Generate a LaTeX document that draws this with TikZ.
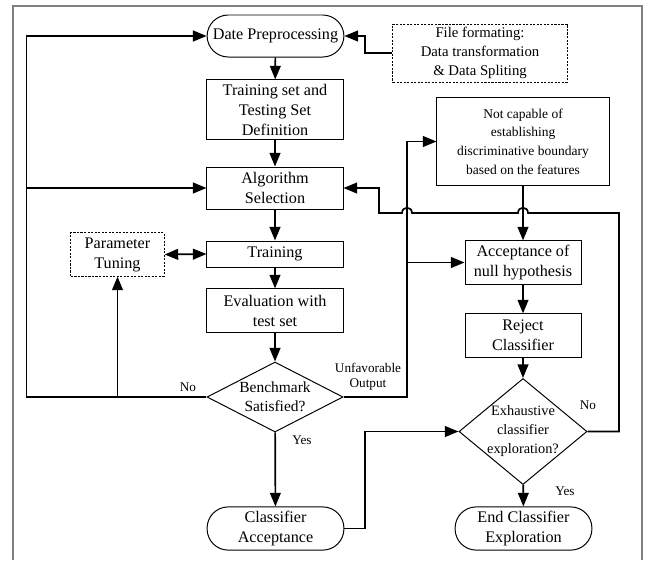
\documentclass[tikz,border=0pt]{standalone}
\usepackage{fontspec}
\setmainfont{Liberation Serif}
\usetikzlibrary{arrows.meta, positioning, shapes.geometric}

\begin{document}
\begin{tikzpicture}[x=0.025cm, y=-0.025cm,
    txt/.style={align=center, font=\fontsize{11.5}{14.2}\selectfont},
    box/.style={txt, draw, line width=0.7pt, inner sep=1pt},
    dashbox/.style={box, dash pattern=on 1.5pt off 1pt},
    term/.style={box, rounded corners=0.53cm},
    decision/.style={draw, line width=0.7pt, diamond, inner sep=0pt},
    flow/.style={-{Triangle[length=3.4mm,width=2.7mm]}, line width=1.2pt},
    lbl/.style={align=center, font=\fontsize{9.4}{11}\selectfont}]
    \useasboundingbox (0,0) rectangle (655,560);

    % Frame
    \draw[gray, line width=1pt] (13,560) -- (13,6) -- (642,6) -- (642,560);

    % Main column
    \node[term, minimum width=3.42cm, minimum height=1.05cm] (prep) at (275.5,36) {Date Preprocessing};
    \node[box, minimum width=3.4cm, minimum height=1.48cm] (split) at (275,109.5) {Training set and\\Testing Set\\Definition};
    \node[box, minimum width=3.4cm, minimum height=1.05cm] (algo) at (275,188) {Algorithm\\Selection};
    \node[box, minimum width=3.4cm, minimum height=0.65cm] (train) at (275,254) {Training};
    \node[box, minimum width=3.4cm, minimum height=1.08cm] (eval) at (275,310.5) {Evaluation with\\test set};
    \node[decision, minimum width=3.4cm, minimum height=1.75cm,
        label={[txt, font=\fontsize{11}{13.8}\selectfont]center:{Benchmark\\Satisfied?}}] (bench) at (275,397) {};
    \node[term, minimum width=3.42cm, minimum height=1.08cm] (accept) at (275.5,528.5) {Classifier\\Acceptance};

    % Side boxes
    \node[dashbox, minimum width=2.33cm, minimum height=1.08cm] (tune) at (117.5,254.5) {Parameter\\Tuning};
    \node[dashbox, minimum width=4.35cm, minimum height=1.45cm, font=\fontsize{10.5}{13.5}\selectfont] (file) at (480,53) {File formating:\\Data transformation\\\& Data Spliting};

    % Right column
    \node[box, minimum width=4.3cm, minimum height=2.18cm, font=\fontsize{9.6}{13.3}\selectfont] (notcap) at (523,141.5) {Not capable of\\establishing\\discriminative boundary\\based on the features};
    \node[box, minimum width=2.9cm, minimum height=1.08cm] (accnull) at (523,262.5) {Acceptance of\\null hypothesis};
    \node[box, minimum width=2.9cm, minimum height=1.08cm] (reject) at (523,335.5) {Reject\\Classifier};
    \node[decision, minimum width=3.2cm, minimum height=2.65cm,
        label={[txt, font=\fontsize{10.2}{13.5}\selectfont]center:{Exhaustive\\classifier\\exploration?}}] (exh) at (523,431.5) {};
    \node[term, minimum width=3.42cm, minimum height=1.08cm] (endc) at (523.5,528.5) {End Classifier\\Exploration};

    % Main flow
    \draw[flow] (prep) -- (split);
    \draw[flow] (split) -- (algo);
    \draw[flow] (algo) -- (train);
    \draw[flow] (train) -- (eval);
    \draw[flow] (eval) -- (bench);
    \draw[flow] (bench) -- (accept);
    \node[lbl] (yes1) at (302,440) {Yes};

    % Benchmark not satisfied
    \draw[flow] (bench.west) -- ++(-180,0) |- (prep.west);
    \coordinate (back) at (27,188);
    \draw[flow] (back) -- (algo.west);
    \coordinate (totune) at (117.5,397);
    \draw[flow] (totune) -- (tune.south);
    \draw[{Triangle[length=3.4mm,width=2.7mm]}-{Triangle[length=3.4mm,width=2.7mm]}, line width=1.2pt] (tune.east) -- (train.west);
    \node[lbl] (no1) at (188,387) {No};

    % Unfavorable output
    \draw[flow] (bench.east) -- (407,397) |- (notcap.west);
    \coordinate (tonull) at (407,262.5);
    \draw[flow] (tonull) -- (accnull.west);
    \node[lbl] (unfav) at (368,377) {Unfavorable\\Output};

    % Right flow
    \draw[flow] (notcap) -- (accnull);
    \draw[flow] (accnull) -- (reject);
    \draw[flow] (reject) -- (exh);
    \draw[flow] (exh) -- (endc);
    \node[lbl] (yes2) at (565,491) {Yes};
    \node[lbl] (no2) at (588,405) {No};

    % Loop back to algorithm selection
    \draw[flow] (exh.east) -- (619,431.5) -- (619,213) -- (528,213)
        .. controls (528,206) and (518,206) .. (518,213) -- (412,213)
        .. controls (412,206) and (402,206) .. (402,213) -- (379,213) |- (algo.east);

    \draw[flow] (accept.east) -- (365,528.5) |- (exh.west);
    \draw[flow] (file.west) -- (365,53) |- (prep.east);
\end{tikzpicture}
\end{document}
